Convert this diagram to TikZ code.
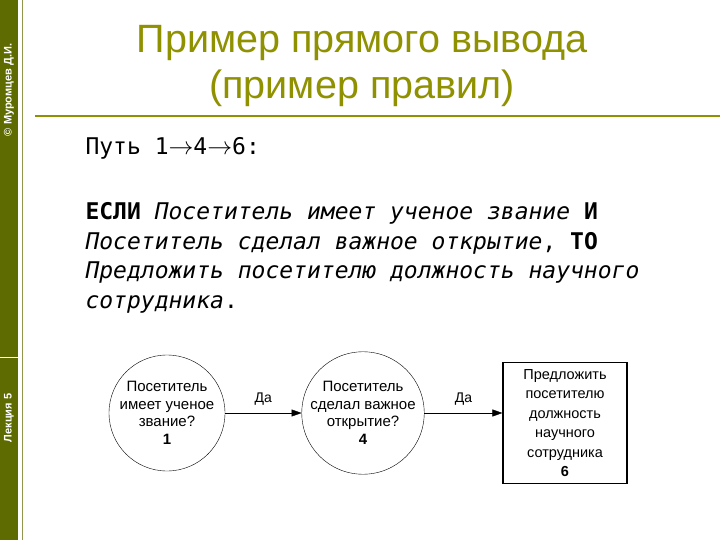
\documentclass[tikz,border=0pt]{standalone}
\usepackage{fontspec}
\setmainfont{Liberation Sans}
\newfontfamily\monof{DejaVu Sans Mono}
\usetikzlibrary{arrows.meta}
\definecolor{olive1}{HTML}{5E6B00}
\definecolor{titlec}{HTML}{8F9100}
\tikzset{
  dec/.style={draw,circle,minimum size=116pt,inner sep=0pt,align=center,font=\fontsize{15}{17.5}\selectfont},
  act/.style={draw,line width=1.2pt,minimum width=124pt,minimum height=121pt,align=center,font=\fontsize{14.5}{19.5}\selectfont},
  conn/.style={-{Triangle[length=10pt,width=7pt]}},
  lbl/.style={font=\fontsize{14}{17}\selectfont}
}
\begin{document}
\begin{tikzpicture}[x=1pt,y=-1pt]
\useasboundingbox (0,0) rectangle (720,540);
\fill[white] (0,0) rectangle (720,540);
\fill[olive1] (0,0) rectangle (18,540);
\draw[white,line width=1pt] (0,357) -- (18,357);
\draw[olive1!70,line width=1pt] (22,0) -- (22,540);
\node[rotate=90,text=white,font=\fontsize{11}{13}\selectfont\bfseries] (au) at (9,90) {© Муромцев Д.И.};
\node[rotate=90,text=white,font=\fontsize{11}{13}\selectfont\bfseries] (lec) at (9,418) {Лекция 5};
\node[align=center,text=titlec,font=\fontsize{39.5}{46}\selectfont] (title) at (362,66) {Пример прямого вывода\\(пример правил)};
\draw[titlec,line width=1.5pt] (35,116) -- (720,116);
\node[anchor=west,font=\fontsize{23}{25}\selectfont\monof] (path) at (82,148) {Путь 1$\rightarrow$4$\rightarrow$6:};
\node[anchor=north west,align=left,font=\fontsize{23}{29.5}\selectfont\monof] (rule) at (82,199)
{\textbf{ЕСЛИ} \textit{Посетитель имеет ученое звание} \textbf{И}\\
\textit{Посетитель сделал важное открытие}, \textbf{ТО}\\
\textit{Предложить посетителю должность научного}\\
\textit{сотрудника}.};
\node[dec] (n1) at (167,413) {Посетитель\\имеет ученое\\звание?\\\textbf{1}};
\node[dec] (n4) at (363,413) {Посетитель\\сделал важное\\открытие?\\\textbf{4}};
\node[act] (n6) at (565,423) {Предложить\\посетителю\\должность\\научного\\сотрудника\\\textbf{6}};
\draw[conn] (n1) -- node[lbl,above=4pt] {Да} (n4);
\draw[conn] (n4.east) -- node[lbl,above=4pt] {Да} (n6.west |- n4.east);
\end{tikzpicture}
\end{document}
